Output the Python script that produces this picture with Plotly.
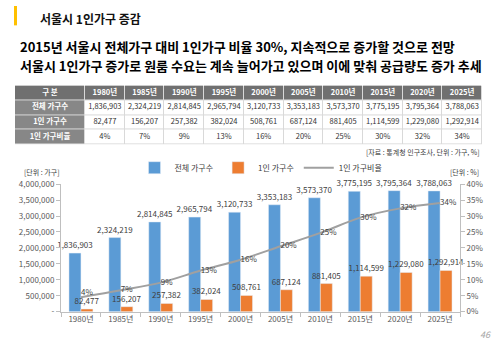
import plotly.graph_objects as go

W, H = 500, 346

years = ["1980년", "1985년", "1990년", "1995년", "2000년", "2005년", "2010년", "2015년", "2020년", "2025년"]
total_households = [1836903, 2324219, 2814845, 2965794, 3120733, 3353183, 3573370, 3775195, 3795364, 3788063]
single_households = [82477, 156207, 257382, 382024, 508761, 687124, 881405, 1114599, 1229080, 1292914]
single_ratio = [4.5, 6.7, 9.1, 12.9, 16.3, 20.5, 24.7, 29.5, 32.4, 34.1]
ratio_labels = ["4%", "7%", "9%", "13%", "16%", "20%", "25%", "30%", "32%", "34%"]
row_names = ["전체 가구수", "1인 가구수", "1인 가구비율"]
left_ticks = [0, 500000, 1000000, 1500000, 2000000, 2500000, 3000000, 3500000, 4000000]
right_ticks = [0, 5, 10, 15, 20, 25, 30, 35, 40]

FONT = "Noto Sans CJK KR"
BLUE = "#5b9bd5"
ORANGE = "#ed7d31"
GRAY_LINE = "#a0a0a0"
TXT = "#404040"

def px(x):
    return x / W

def py(y):
    return 1 - y / H

fig = go.Figure()

# ---- table (heatmap cells + text on a hidden axis pair) ----
first_w, col_w = 70, 39.7
ncol = len(years) + 1
x_edges = [0, first_w] + [first_w + col_w * (i + 1) for i in range(len(years))]
x_centers = [(x_edges[i] + x_edges[i + 1]) / 2 for i in range(ncol)]
nrow = 4
z = []
for r in range(nrow):
    row = []
    for c in range(ncol):
        if r == 0:
            row.append(0)
        elif c == 0:
            row.append(1)
        else:
            row.append(2)
    z.append(row)
fig.add_trace(go.Heatmap(
    z=z, x=x_edges, y=list(range(nrow + 1)), xaxis="x3", yaxis="y3",
    colorscale=[[0, "#707070"], [0.5, "#878787"], [1, "#ffffff"]], zmin=0, zmax=2,
    showscale=False, xgap=1, ygap=1, hoverinfo="skip",
))
tx, ty, tt, tc = [], [], [], []
header_vals = ["구 분"] + years
for c in range(ncol):
    tx.append(x_centers[c]); ty.append(0.5); tt.append("<b>%s</b>" % header_vals[c]); tc.append("white")
for r in range(3):
    tx.append(x_centers[0]); ty.append(r + 1.5); tt.append("<b>%s</b>" % row_names[r]); tc.append("white")
for i in range(len(years)):
    vals = [f"{total_households[i]:,}", f"{single_households[i]:,}", ratio_labels[i]]
    for r in range(3):
        tx.append(x_centers[i + 1]); ty.append(r + 1.5); tt.append(vals[r]); tc.append("#333333")
fig.add_trace(go.Scatter(
    x=tx, y=ty, text=tt, mode="text", xaxis="x3", yaxis="y3", showlegend=False,
    textfont=dict(family=FONT, size=7.5, color=tc), hoverinfo="skip",
))
fig.add_shape(type="rect", xref="x3", yref="y3", x0=0, x1=x_edges[-1], y0=0, y1=nrow,
              fillcolor="#d9d9d9", line=dict(width=0), layer="below")

# ---- chart ----
fig.add_trace(go.Bar(
    x=years, y=total_households, name="전체 가구수", marker_color=BLUE,
    text=[f"{v:,}" for v in total_households], textposition="outside", constraintext="none", textangle=0,
    textfont=dict(family=FONT, size=8, color=TXT), cliponaxis=False,
))
fig.add_trace(go.Bar(
    x=years, y=single_households, name="1인 가구수", marker_color=ORANGE,
    text=[f"{v:,}" for v in single_households], textposition="outside", constraintext="none", textangle=0,
    textfont=dict(family=FONT, size=8, color=TXT), cliponaxis=False,
))
fig.add_trace(go.Scatter(
    x=years, y=single_ratio, name="1인 가구비율", yaxis="y2", mode="lines+text",
    line=dict(color=GRAY_LINE, width=2, shape="spline"),
    text=ratio_labels, textposition=["top right"] + ["middle right"] * 9,
    textfont=dict(family=FONT, size=8, color=TXT), cliponaxis=False,
))

axis_font = dict(family=FONT, size=8, color="#595959")
fig.update_layout(
    width=W, height=H, autosize=False,
    margin=dict(l=0, r=0, t=0, b=0),
    paper_bgcolor="white", plot_bgcolor="white",
    barmode="group", bargap=0.4, bargroupgap=0,
    font=dict(family=FONT),
    xaxis=dict(domain=[px(61), px(460)], showline=True, linecolor="#bfbfbf", linewidth=1,
               ticks="outside", tickson="boundaries", ticklen=4, tickcolor="#bfbfbf",
               tickfont=axis_font, fixedrange=True),
    yaxis=dict(domain=[py(315.7), py(184)], range=[0, 4000000], tickvals=left_ticks,
               ticktext=["-"] + [f"{v:,}" for v in left_ticks[1:]],
               showline=True, linecolor="#bfbfbf", ticks="outside", ticklen=4, tickcolor="#bfbfbf",
               showgrid=False, zeroline=False, tickfont=axis_font),
    yaxis2=dict(overlaying="y", side="right", range=[0, 40], tickvals=right_ticks,
                ticktext=[f"{v}%" for v in right_ticks],
                showline=True, linecolor="#bfbfbf", ticks="outside", ticklen=4, tickcolor="#bfbfbf",
                showgrid=False, zeroline=False, tickfont=axis_font),
    xaxis3=dict(domain=[px(15), px(482)], range=[0, x_edges[-1]], visible=False, fixedrange=True),
    yaxis3=dict(domain=[py(143), py(82)], range=[nrow, 0], visible=False, fixedrange=True),
    legend=dict(orientation="h", x=0.522, xanchor="center", y=py(167), yanchor="middle",
                font=dict(family=FONT, size=8, color=TXT), bgcolor="rgba(0,0,0,0)",
                itemwidth=30, tracegroupgap=0),
    showlegend=True,
)

# yellow accent bar
fig.add_shape(type="rect", xref="paper", yref="paper", x0=px(14), x1=px(17), y0=py(20), y1=py(0),
              fillcolor="#ffc000", line=dict(width=0))

ann = [
    dict(text="<b>서울시 1인가구 증감</b>", x=px(38), y=py(13), xanchor="left", size=12, color="#111111"),
    dict(text="<b>2015년 서울시 전체가구 대비 1인가구 비율 30%, 지속적으로 증가할 것으로 전망</b>",
         x=px(18), y=py(42), xanchor="left", size=13, color="#000000"),
    dict(text="<b>서울시 1인가구 증가로 원룸 수요는 계속 늘어가고 있으며 이에 맞춰 공급량도 증가 추세</b>",
         x=px(18), y=py(61), xanchor="left", size=13, color="#000000"),
    dict(text="[자료 : 통계청 인구조사, 단위 : 가구, %]", x=px(482), y=py(151), xanchor="right", size=7, color="#404040"),
    dict(text="[단위 : 가구]", x=px(22), y=py(171), xanchor="left", size=7, color="#404040"),
    dict(text="[단위 : %]", x=px(481), y=py(171), xanchor="right", size=7, color="#404040"),
    dict(text="<i>46</i>", x=px(493), y=py(339), xanchor="right", size=9, color="#a6a6a6"),
]
for a in ann:
    fig.add_annotation(text=a["text"], x=a["x"], y=a["y"], xref="paper", yref="paper",
                       xanchor=a["xanchor"], yanchor="middle", showarrow=False,
                       font=dict(family=FONT, size=a["size"], color=a["color"]))

fig.write_html("out.html")
